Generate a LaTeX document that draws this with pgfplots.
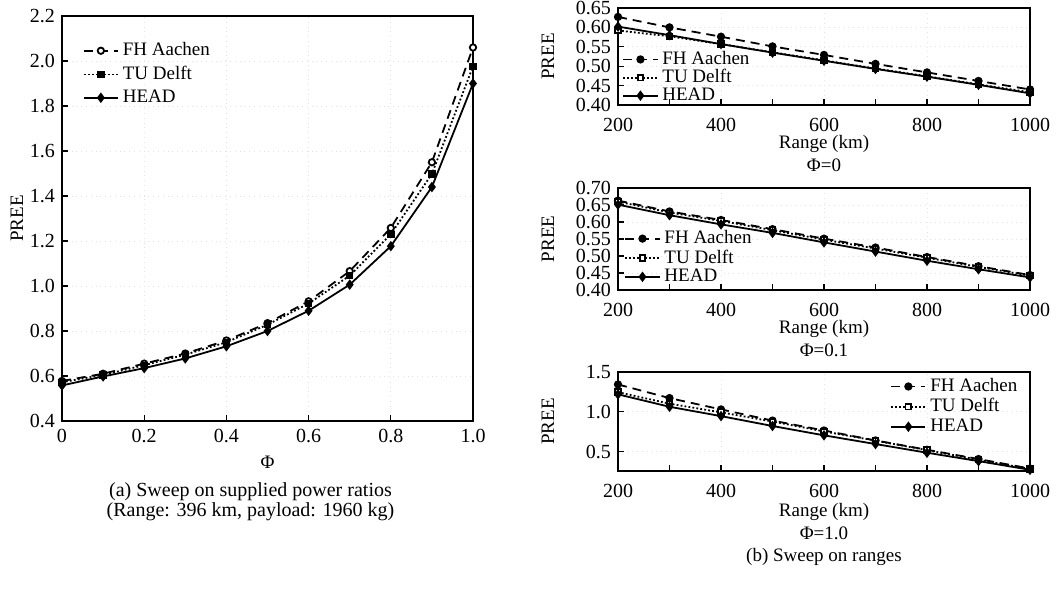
\documentclass[border=0pt]{standalone}
\usepackage{fontspec}
\setmainfont{Liberation Serif}
\usepackage{pgfplots}
\pgfplotsset{compat=1.18}

\pgfplotstableread{
x    fh     tu     hd
0.0  0.578  0.572  0.558
0.1  0.610  0.605  0.598
0.2  0.655  0.648  0.635
0.3  0.700  0.695  0.678
0.4  0.758  0.750  0.732
0.5  0.835  0.828  0.800
0.6  0.932  0.922  0.890
0.7  1.066  1.046  1.006
0.8  1.258  1.230  1.177
0.9  1.550  1.498  1.440
1.0  2.060  1.976  1.900
}\phisweep

\pgfplotstableread{
r     fh     tu     hd
200   0.627  0.592  0.602
300   0.600  0.577  0.580
400   0.576  0.557  0.557
500   0.551  0.536  0.535
600   0.529  0.515  0.514
700   0.506  0.494  0.493
800   0.484  0.474  0.473
900   0.462  0.453  0.452
1000  0.440  0.433  0.430
}\rzero

\pgfplotstableread{
r     fh     tu     hd
200   0.663  0.660  0.651
300   0.631  0.628  0.620
400   0.606  0.603  0.593
500   0.579  0.576  0.568
600   0.551  0.548  0.540
700   0.525  0.522  0.513
800   0.497  0.495  0.486
900   0.470  0.468  0.461
1000  0.444  0.442  0.437
}\rpointone

\pgfplotstableread{
r     fh     tu     hd
200   1.344  1.247  1.220
300   1.173  1.103  1.064
400   1.031  0.994  0.947
500   0.891  0.880  0.823
600   0.767  0.755  0.706
700   0.642  0.640  0.597
800   0.525  0.520  0.488
900   0.409  0.400  0.383
1000  0.290  0.285  0.274
}\rone

\pgfplotsset{
  base/.style={
    scale only axis,
    font=\fontsize{9.5}{11}\selectfont,
    axis line style={line width=0.9pt},
    tick align=inside, tick pos=left,
    major tick length=3pt, minor tick length=3pt,
    every tick/.style={black, line width=0.6pt},
    /pgf/number format/assume math mode=true,
    /pgf/number format/1000 sep={},
    grid=major, grid style={gray!22, dotted, line width=0.4pt},
    ticklabel style={font=\fontsize{10}{12}\selectfont},
    xticklabel style={anchor=center},
    yticklabel style={anchor=east},
    legend style={draw=none, fill=none, inner sep=1pt,
      font=\fontsize{9.5}{11}\selectfont, legend cell align=left},
    legend cell align=left,
  },
  rightax/.style={base, width=206pt,
    xmin=200, xmax=1000, xtick={200,400,...,1000}, minor xtick={300,500,700,900},
    xticklabel style={yshift=-10pt},
    ylabel={PREE}, ylabel style={at={(axis description cs:-0.17,0.5)}, anchor=center},
    xlabel style={align=center, anchor=north, at={(axis description cs:0.5,0)}, font=\fontsize{9.5}{11.4}\selectfont},
    legend style={row sep=-3pt},
  },
  fhL/.style={black, line width=0.9pt, dash pattern=on 4.5pt off 3pt, mark=*, mark size=1.6pt, mark options={solid, fill=white}},
  tuL/.style={black, line width=0.9pt, dash pattern=on 0.9pt off 1.1pt, mark=square*, mark size=1.4pt, mark options={solid, fill=black}},
  hdL/.style={black, line width=0.9pt, solid, mark=diamond*, mark size=1.9pt, mark options={solid, fill=black}},
  fhR/.style={black, line width=0.9pt, dash pattern=on 4.5pt off 3pt, mark=*, mark size=1.6pt, mark options={solid, fill=black}},
  tuR/.style={black, line width=0.9pt, dash pattern=on 0.9pt off 1.1pt, mark=square*, mark size=1.4pt, mark options={solid, fill=white}},
}

\begin{document}
\begin{tikzpicture}
\path[use as bounding box] (0,0) rectangle (531.5pt,-299pt);

% (a) sweep on supplied power ratios
\begin{axis}[base,
  at={(31pt,-8pt)}, anchor=north west,
  width=205.5pt, height=202.5pt,
  xmin=0, xmax=1, ymin=0.4, ymax=2.2,
  xtick={0,0.2,0.4,0.6,0.8,1.0},
  xticklabels={0,0.2,0.4,0.6,0.8,1.0},
  ytick={0.4,0.6,...,2.21},
  yticklabel style={/pgf/number format/.cd, fixed, fixed zerofill, precision=1},
  xticklabel style={yshift=-7.5pt},
  xlabel={Φ}, xlabel style={at={(axis description cs:0.5,0)}, anchor=center, yshift=-20.5pt},
  ylabel={PREE}, ylabel style={at={(axis description cs:-0.11,0.5)}, anchor=center},
  legend style={at={(0.045,0.95)}, anchor=north west, row sep=-0.3pt},
  extra description/.code={
    \node[align=center, font=\fontsize{10}{10.2}\selectfont] at (axis description cs:0.5,0) [xshift=-8.5pt, yshift=-40.5pt] {(a) Sweep on supplied power ratios\\(Range: 396 km, payload: 1960 kg)};
  },
]
\addplot[fhL] table[x=x, y=fh] {\phisweep};
\addplot[tuL] table[x=x, y=tu] {\phisweep};
\addplot[hdL] table[x=x, y=hd] {\phisweep};
\legend{FH Aachen, TU Delft, HEAD}
\end{axis}

% (b) top: Phi = 0
\begin{axis}[rightax,
  at={(309pt,-4pt)}, anchor=north west, height=48.5pt,
  ymin=0.40, ymax=0.65, ytick={0.40,0.45,...,0.651},
  yticklabel style={/pgf/number format/.cd, fixed, fixed zerofill, precision=2},
  xlabel={Range (km)\\Φ=0}, xlabel style={yshift=-11.5pt},
  legend style={at={(0.005,-0.05)}, anchor=south west},
]
\addplot[fhR] table[x=r, y=fh] {\rzero};
\addplot[tuR] table[x=r, y=tu] {\rzero};
\addplot[hdL] table[x=r, y=hd] {\rzero};
\legend{FH Aachen, TU Delft, HEAD}
\end{axis}

% (b) middle: Phi = 0.1
\begin{axis}[rightax,
  at={(309pt,-94pt)}, anchor=north west, height=51pt,
  ymin=0.40, ymax=0.70, ytick={0.40,0.45,...,0.701},
  yticklabel style={/pgf/number format/.cd, fixed, fixed zerofill, precision=2},
  xlabel={Range (km)\\Φ=0.1}, xlabel style={yshift=-11.5pt},
  legend style={at={(0.01,-0.01)}, anchor=south west, row sep=-2.5pt},
]
\addplot[fhR] table[x=r, y=fh] {\rpointone};
\addplot[tuR] table[x=r, y=tu] {\rpointone};
\addplot[hdL] table[x=r, y=hd] {\rpointone};
\legend{FH Aachen, TU Delft, HEAD}
\end{axis}

% (b) bottom: Phi = 1.0
\begin{axis}[rightax,
  at={(309pt,-186pt)}, anchor=north west, height=49.5pt,
  ymin=0.259, ymax=1.5, ytick={0.5,1.0,1.5},
  yticklabel style={/pgf/number format/.cd, fixed, fixed zerofill, precision=1},
  xlabel={Range (km)\\Φ=1.0\\(b) Sweep on ranges}, xlabel style={yshift=-12.5pt},
  legend style={at={(0.985,1.0)}, anchor=north east, row sep=-2pt},
]
\addplot[fhR] table[x=r, y=fh] {\rone};
\addplot[tuR] table[x=r, y=tu] {\rone};
\addplot[hdL] table[x=r, y=hd] {\rone};
\legend{FH Aachen, TU Delft, HEAD}
\end{axis}
\end{tikzpicture}
\end{document}
